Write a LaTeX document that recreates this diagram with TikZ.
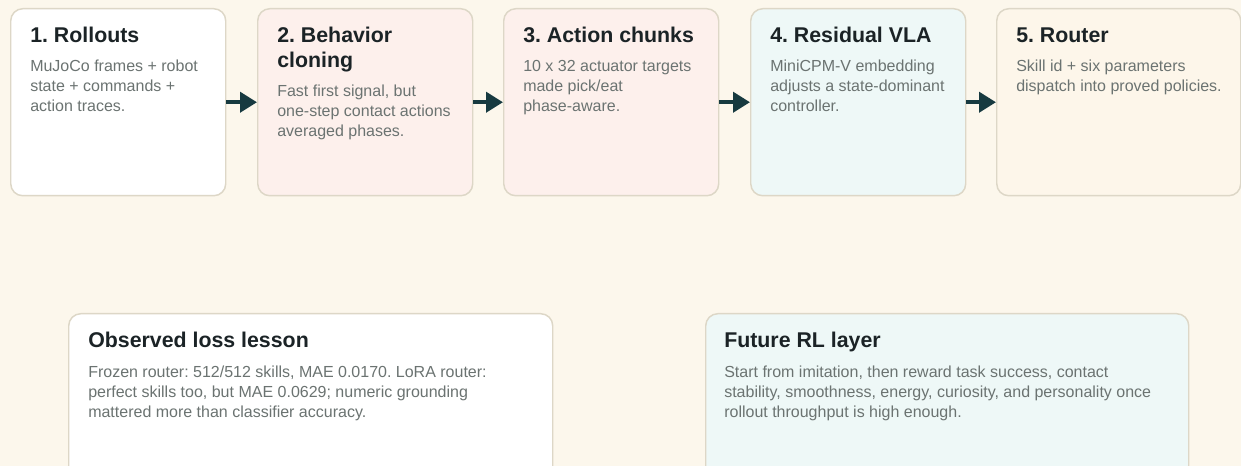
\documentclass[tikz,border=0pt]{standalone}
\usepackage{fontspec}
\setmainfont{Liberation Sans}
\frenchspacing
\usetikzlibrary{arrows.meta}
\definecolor{pagebg}{HTML}{FCF7EC}
\definecolor{cardline}{HTML}{DDD7C7}
\definecolor{cardwhite}{HTML}{FFFFFF}
\definecolor{cardrose}{HTML}{FDF0EC}
\definecolor{cardmint}{HTML}{EEF8F7}
\definecolor{cardcream}{HTML}{FDF6EA}
\definecolor{headink}{HTML}{1B2326}
\definecolor{bodyink}{HTML}{6B7371}
\definecolor{flowink}{HTML}{173A40}
% multi-line nodes sit on the baseline of their last line
\tikzset{
  card/.style={draw=cardline, line width=1.1pt, rounded corners=9pt,
    anchor=north west, inner sep=0pt, minimum height=140.25pt},
  stagecard/.style={card, minimum width=161.25pt},
  notecard/.style={card, minimum height=125.25pt},
  cardtitle/.style={anchor=base west, inner sep=0pt, align=left, text=headink,
    font=\fontsize{16}{18.75}\selectfont\bfseries},
  cardbody/.style={anchor=base west, inner sep=0pt, align=left, text=bodyink,
    font=\fontsize{12}{15}\selectfont},
  flow/.style={draw=flowink, line width=3pt, -{Triangle[length=12.75pt,width=15pt]}},
}
\begin{document}
\begin{tikzpicture}[x=0.75pt, y=-0.75pt]
  % page
  \fill[pagebg] (0,0) rectangle (1241,466);
  \useasboundingbox (0,0) rectangle (1241,466);
  \clip (0,0) rectangle (1241,466);

  % pipeline stages
  \node[stagecard, fill=cardwhite] (s1) at (10,8) {};
  \node[stagecard, fill=cardrose]  (s2) at (257,8) {};
  \node[stagecard, fill=cardrose]  (s3) at (503,8) {};
  \node[stagecard, fill=cardmint]  (s4) at (750,8) {};
  \node[card, fill=cardcream, minimum width=183pt] (s5) at (996,8) {};

  \node[cardtitle] (s1t) at ([shift={(20,35)}]s1.north west) {1. Rollouts};
  \node[cardbody]  (s1b) at ([shift={(20,104)}]s1.north west)
    {MuJoCo frames + robot\\state + commands +\\action traces.};

  \node[cardtitle] (s2t) at ([shift={(20,60)}]s2.north west) {2. Behavior\\cloning};
  \node[cardbody]  (s2b) at ([shift={(20,129)}]s2.north west)
    {Fast first signal, but\\one-step contact actions\\averaged phases.};

  \node[cardtitle] (s3t) at ([shift={(20,35)}]s3.north west) {3. Action chunks};
  \node[cardbody]  (s3b) at ([shift={(20,104)}]s3.north west)
    {10 x 32 actuator targets\\made pick/eat\\phase-aware.};

  \node[cardtitle] (s4t) at ([shift={(20,35)}]s4.north west) {4. Residual VLA};
  \node[cardbody]  (s4b) at ([shift={(20,104)}]s4.north west)
    {MiniCPM-V embedding\\adjusts a state-dominant\\controller.};

  \node[cardtitle] (s5t) at ([shift={(20,35)}]s5.north west) {5. Router};
  \node[cardbody]  (s5b) at ([shift={(20,84)}]s5.north west)
    {Skill id + six parameters\\dispatch into proved policies.};

  % flow between stages
  \draw[flow] (s1.east) -- (s2.west);
  \draw[flow] (s2.east) -- (s3.west);
  \draw[flow] (s3.east) -- (s4.west);
  \draw[flow] (s4.east) -- (s5.west);

  % notes
  \node[notecard, fill=cardwhite, minimum width=363pt] (n1) at (68,313) {};
  \node[cardtitle] (n1t) at ([shift={(20,35)}]n1.north west) {Observed loss lesson};
  \node[cardbody]  (n1b) at ([shift={(20,104)}]n1.north west)
    {Frozen router: 512/512 skills, MAE 0.0170. LoRA router:\\perfect skills too, but MAE 0.0629; numeric grounding\\mattered more than classifier accuracy.};

  \node[notecard, fill=cardmint, minimum width=362.25pt] (n2) at (705,313) {};
  \node[cardtitle] (n2t) at ([shift={(19,35)}]n2.north west) {Future RL layer};
  \node[cardbody]  (n2b) at ([shift={(19,104)}]n2.north west)
    {Start from imitation, then reward task success, contact\\stability, smoothness, energy, curiosity, and personality once\\rollout throughput is high enough.};
\end{tikzpicture}
\end{document}
